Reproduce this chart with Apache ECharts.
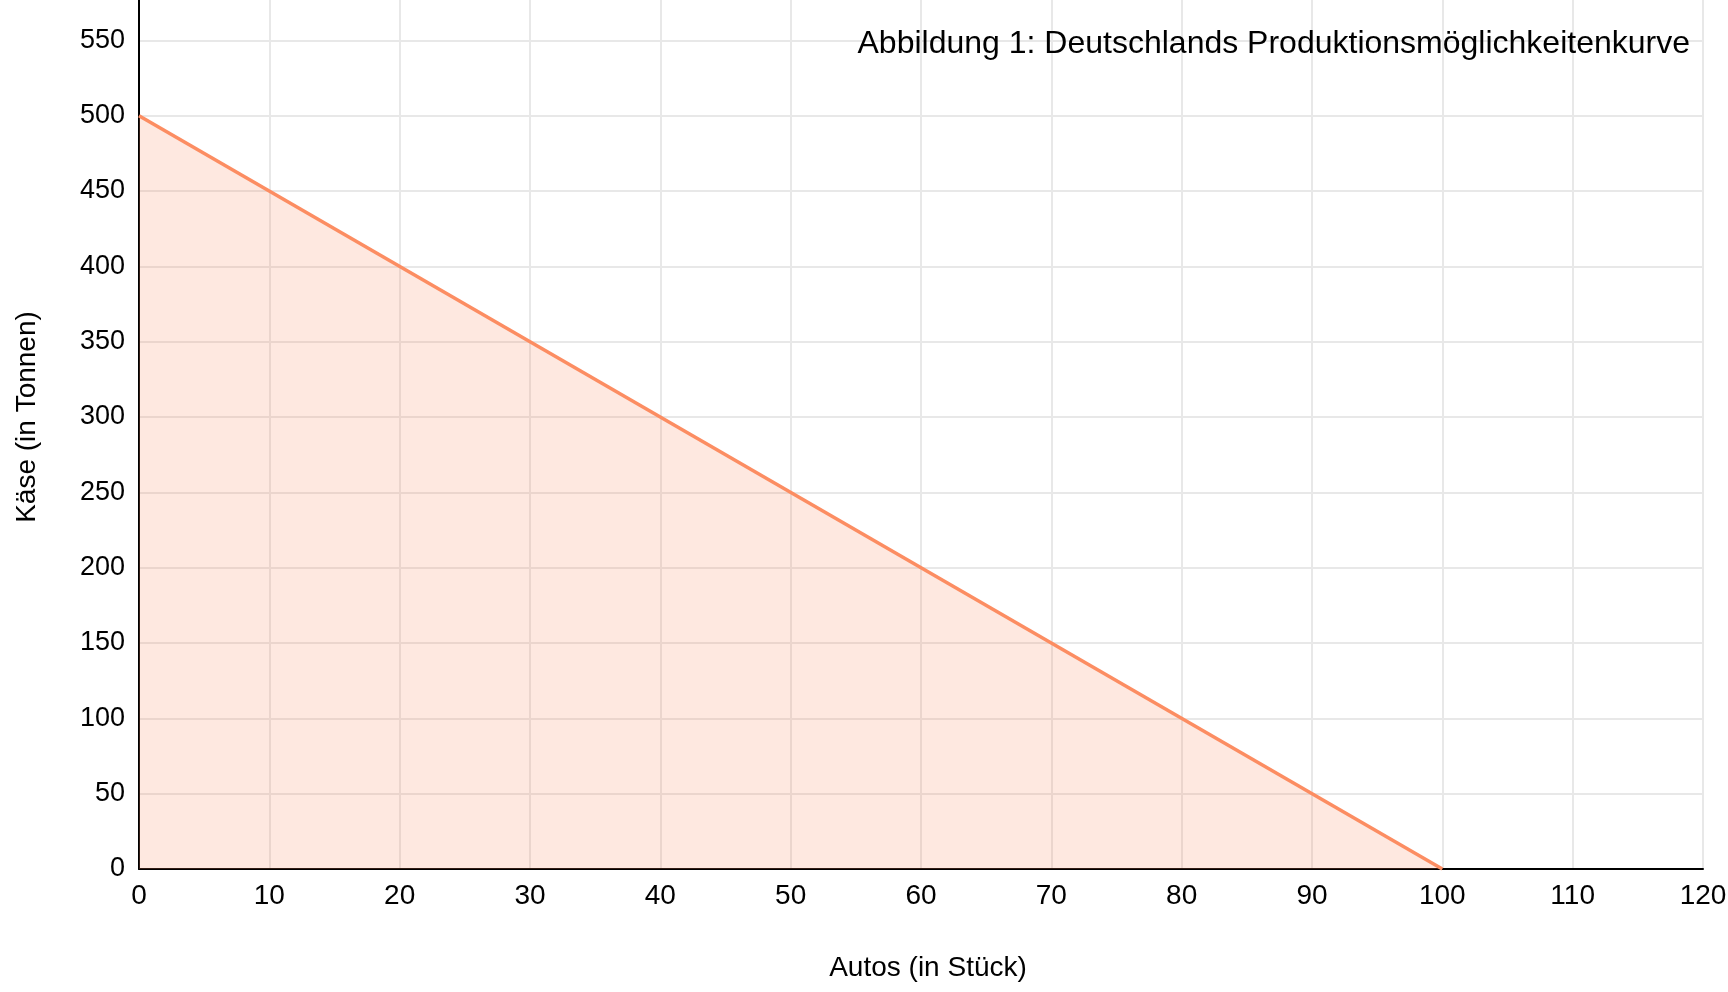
<!DOCTYPE html>
<html>
<head>
<meta charset="utf-8">
<script src="https://cdn.jsdelivr.net/npm/echarts@6/dist/echarts.min.js"></script>
<style>
html,body{margin:0;padding:0;background:#fff;}
#chart{width:1728px;height:992px;}
</style>
</head>
<body>
<div id="chart"></div>
<script>
const autos = [0, 100];
const kaese = [500, 0];
const titleText = 'Abbildung 1: Deutschlands Produktionsmöglichkeitenkurve';
const xName = 'Autos (in Stück)';
const yName = 'Käse (in Tonnen)';

const FONT = '"Liberation Sans", Arial, Helvetica, sans-serif';
const chart = echarts.init(document.getElementById('chart'), null, {renderer: 'canvas'});
chart.setOption({
  animation: false,
  backgroundColor: '#ffffff',
  title: {
    text: titleText,
    right: 33,
    top: 23,
    textStyle: {fontFamily: FONT, fontSize: 32, fontWeight: 'normal', color: '#000'}
  },
  grid: {left: 139, right: 25, top: -35, bottom: 123, containLabel: false, outerBoundsMode: 'none'},
  xAxis: {
    type: 'value',
    min: 0, max: 120, interval: 10,
    name: xName,
    nameLocation: 'middle',
    nameGap: 85,
    nameTextStyle: {fontFamily: FONT, fontSize: 28, color: '#000', padding: [0, 0, 0, 14]},
    axisLine: {show: true, onZero: false, lineStyle: {color: '#000', width: 2}},
    axisTick: {show: false},
    axisLabel: {fontFamily: FONT, fontSize: 28, color: '#000', margin: 13},
    splitLine: {show: true, lineStyle: {color: '#e8e8e8', width: 2}}
  },
  yAxis: {
    type: 'value',
    min: 0, max: 600, interval: 50,
    name: yName,
    nameLocation: 'middle',
    nameGap: 98,
    nameTextStyle: {fontFamily: FONT, fontSize: 28, color: '#000'},
    axisLine: {show: true, onZero: false, lineStyle: {color: '#000', width: 2}},
    axisTick: {show: false},
    axisLabel: {fontFamily: FONT, fontSize: 27, color: '#000', margin: 14},
    splitLine: {show: true, lineStyle: {color: '#e8e8e8', width: 2}}
  },
  series: [{
    type: 'line',
    data: autos.map((a, i) => [a, kaese[i]]),
    showSymbol: false,
    symbol: 'none',
    lineStyle: {color: '#fc8d62', width: 3.5},
    areaStyle: {color: '#fc8d62', opacity: 0.2},
    z: 3
  }]
});
</script>
</body>
</html>
